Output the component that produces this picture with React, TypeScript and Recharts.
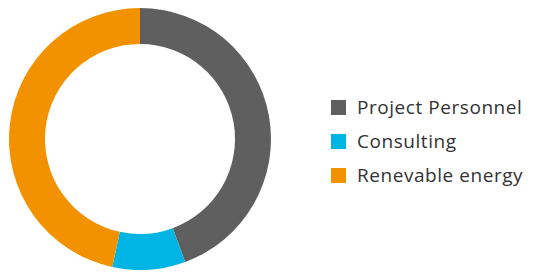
import { PieChart, Pie, Cell, Legend } from "recharts";

const categories = ["Project Personnel", "Consulting", "Renevable energy"];
const shares = [44.4, 9.0, 46.6];
const colors = ["#5f5f5f", "#00b4e4", "#f39200"];

const data = categories.map((name, i) => ({ name, value: shares[i] }));

function LegendList() {
    return (
        <div style={{ fontFamily: "'Open Sans', sans-serif", fontSize: 19, color: "#333", letterSpacing: 0.55 }}>
            {data.map((d, i) => (
                <div key={d.name} style={{ display: "flex", alignItems: "center", height: 34 }}>
                    <span
                        style={{
                            display: "inline-block",
                            width: 15,
                            height: 15,
                            background: colors[i],
                            marginRight: 11,
                            flexShrink: 0,
                        }}
                    />
                    <span style={{ whiteSpace: "nowrap" }}>{d.name}</span>
                </div>
            ))}
        </div>
    );
}

export default function App() {
    return (
        <div style={{ margin: -8, width: 537, height: 278, background: "#fff" }}>
            <PieChart width={537} height={278} margin={{ top: 0, right: 0, bottom: 0, left: 0 }}>
                <Pie
                    data={data}
                    dataKey="value"
                    cx={140}
                    cy={139}
                    innerRadius={95}
                    outerRadius={131}
                    startAngle={90}
                    endAngle={-270}
                    stroke="none"
                    isAnimationActive={false}
                >
                    {data.map((d, i) => (
                        <Cell key={d.name} fill={colors[i]} />
                    ))}
                </Pie>
                <Legend
                    layout="vertical"
                    align="right"
                    verticalAlign="top"
                    content={() => <LegendList />}
                    wrapperStyle={{ left: 331, top: 90, width: 206 }}
                />
            </PieChart>
        </div>
    );
}
